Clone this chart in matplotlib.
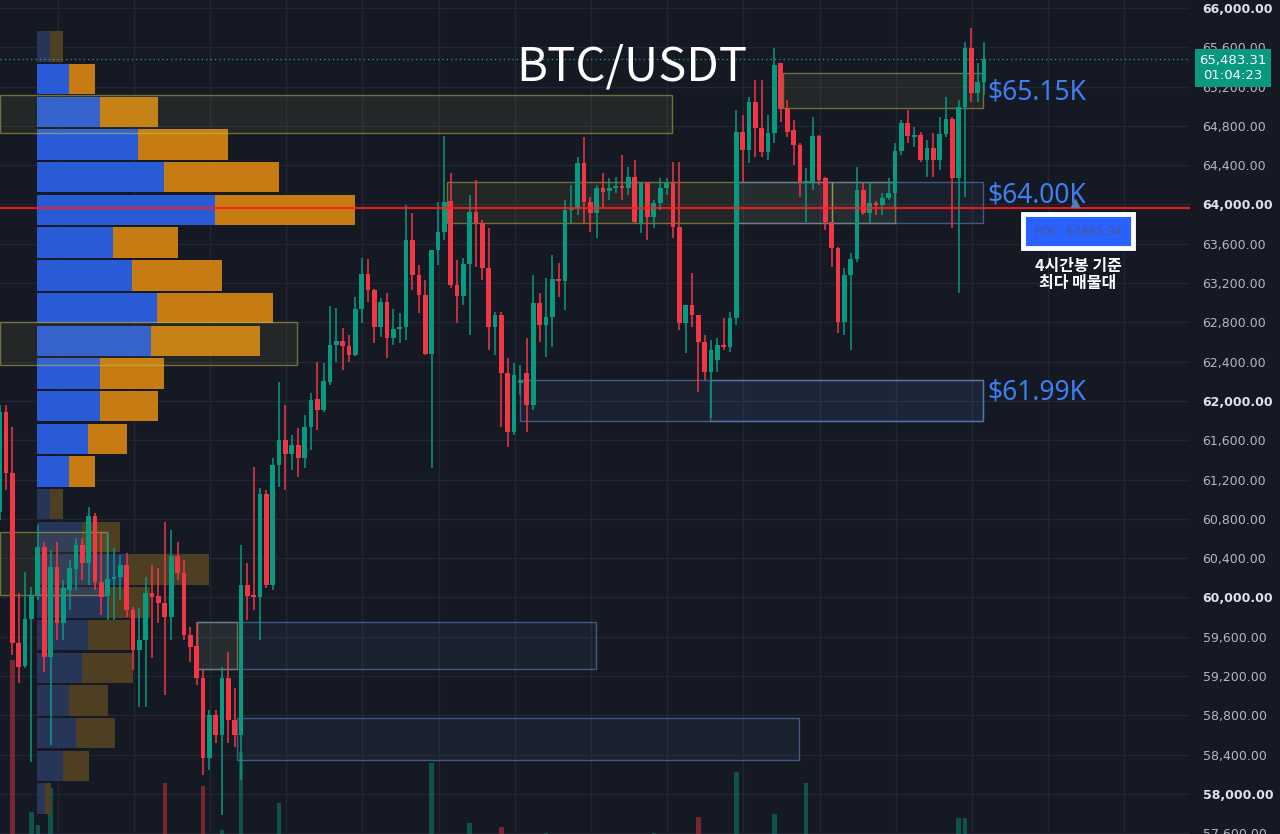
import numpy as np
import matplotlib.pyplot as plt
from matplotlib.patches import Rectangle

# 4h candles, oldest first (first one is cut by the left edge)
opens = [60870, 61888, 61267, 59537, 59302, 59781, 60025, 60514, 59394, 60310, 59740,
         60076, 60290, 60534, 60351, 60829, 60157, 60015, 60188, 60209, 60331, 59873,
         59465, 59567, 60046, 60015, 59944, 59801, 60422, 60249, 59618, 59506, 59180,
         58366, 58804, 58600, 59180, 58753, 58600, 60127, 60025, 60005, 61053, 60127,
         61348, 61602, 61460, 61552, 61419, 61735, 62020, 61908, 62193, 62569, 62610,
         62559, 62468, 62936, 63292, 63129, 62753, 63007, 62641, 62733, 62753, 63638,
         63282, 63079, 62478, 63536, 63720, 64035, 63181, 63068, 63394, 63923, 63812,
         63353, 62753, 62875, 62285, 61684, 62183, 62285, 61959, 62997, 62773, 62855,
         63242, 63221, 63944, 63954, 64422, 64025, 63913, 64168, 64137, 64168, 64188,
         64168, 64280, 63812, 64219, 63873, 64015, 64168, 64219, 63771, 62794, 62977,
         62875, 62600, 62295, 62417, 62569, 62549, 62845, 64738, 64554, 65043, 64778,
         64534, 64728, 65440, 64972, 64758, 64605, 64219, 64229, 64697, 64270, 63822,
         63557, 62804, 63282, 63445, 64147, 63913, 64015, 63995, 64066, 64117, 64544,
         64829, 64687, 64707, 64453, 64575, 64453, 64717, 64870, 64270, 64992, 65593,
         65135, 65246]
highs = [61959, 61959, 61735, 60046, 60259, 60107, 60738, 60565, 60482, 60565, 60178,
         60381, 60605, 60605, 60921, 60860, 60656, 60656, 60504, 60432, 60453, 59903,
         59893, 60209, 60331, 60300, 60768, 60686, 60565, 60381, 59700, 59750, 59262,
         58855, 58855, 59292, 59445, 59079, 60534, 60351, 61328, 61114, 61093, 61419,
         62193, 61959, 61654, 61725, 61857, 62081, 62397, 62387, 62967, 62946, 62743,
         62672, 63058, 63455, 63445, 63140, 63048, 63099, 62936, 62895, 63995, 63913,
         63384, 63231, 63536, 64025, 64697, 64320, 63435, 63455, 64097, 64249, 63842,
         63761, 62906, 62906, 62437, 62387, 62366, 62641, 63282, 63099, 63252, 63486,
         63404, 64045, 64198, 64483, 64687, 64076, 64198, 64320, 64270, 64280, 64504,
         64382, 64453, 64219, 64229, 64045, 64270, 64270, 64432, 64432, 62977, 63302,
         62875, 62672, 62620, 62641, 62845, 62906, 64962, 64911, 65094, 65267, 65267,
         64911, 65593, 65440, 65063, 64860, 64626, 64371, 64890, 64707, 64280, 63822,
         63567, 63353, 63506, 64382, 64219, 64219, 64035, 64117, 64270, 64626, 64860,
         64962, 64789, 64738, 64656, 64728, 64890, 65094, 64890, 65063, 65654, 65796,
         65440, 65654]
lows = [60788, 61093, 59414, 59130, 59282, 58326, 59974, 59241, 58499, 59567, 59567,
        59873, 60076, 60178, 60127, 60076, 59822, 59771, 59771, 59974, 59801, 59262,
        58885, 58885, 59384, 59740, 59007, 59567, 60178, 59567, 59343, 59109, 58193,
        58244, 58519, 57786, 58519, 58478, 58142, 59771, 59873, 59567, 60096, 60076,
        61125, 61093, 61297, 61226, 61318, 61500, 61704, 61888, 62163, 62397, 62315,
        62397, 62458, 62794, 63007, 62590, 62651, 62437, 62569, 62590, 62620, 63129,
        62895, 62468, 61318, 63384, 63638, 63150, 62794, 62977, 62672, 63364, 63231,
        62518, 62468, 61735, 61531, 61654, 62061, 61684, 61908, 62600, 62448, 62549,
        63058, 62926, 63812, 63893, 63812, 63720, 63659, 63974, 64045, 64117, 64045,
        64097, 63812, 63710, 63638, 63761, 63944, 64097, 63659, 62722, 62488, 62753,
        62092, 62213, 61827, 62295, 62518, 62498, 62773, 64229, 64422, 64483, 64483,
        64453, 64626, 64839, 64687, 64402, 64076, 63822, 64147, 64198, 63740, 63364,
        62692, 62672, 62518, 63414, 63893, 63812, 63893, 63893, 64045, 63964, 64504,
        64626, 64585, 64432, 64280, 64280, 64351, 64687, 63761, 63099, 64076, 65043,
        65043, 65114]
closes = [61888, 61267, 59537, 59292, 59781, 60025, 60514, 59394, 60310, 59740, 60096,
          60300, 60534, 60351, 60829, 60157, 60005, 60188, 60209, 60331, 59873, 59465,
          59567, 60046, 60005, 59944, 59801, 60422, 60249, 59618, 59496, 59180, 58366,
          58804, 58600, 59180, 58753, 58600, 60127, 60015, 60005, 61053, 60127, 61348,
          61602, 61460, 61552, 61419, 61735, 62009, 61908, 62203, 62569, 62610, 62559,
          62468, 62936, 63292, 63129, 62753, 63007, 62641, 62733, 62753, 63638, 63282,
          63079, 62478, 63536, 63720, 64025, 63181, 63068, 63394, 63923, 63812, 63353,
          62753, 62875, 62285, 61684, 62264, 62213, 61959, 62997, 62773, 62855, 63242,
          63221, 63944, 63964, 64422, 64025, 63913, 64168, 64127, 64168, 64188, 64168,
          64280, 63822, 64219, 63873, 64015, 64168, 64219, 63771, 62794, 62977, 62875,
          62600, 62295, 62518, 62569, 62549, 62845, 64738, 64554, 65043, 64778, 64534,
          64728, 65420, 64972, 64738, 64605, 64229, 64239, 64697, 64249, 63822, 63557,
          62804, 63282, 63445, 64147, 63913, 64015, 63995, 64066, 64117, 64544, 64829,
          64697, 64707, 64453, 64575, 64453, 64717, 64870, 64270, 64992, 65593, 65135,
          65246, 65483.31]

# only the bars tall enough to show above the bottom edge
vol_idx = [1, 4, 5, 7, 25, 31, 34, 37, 43, 67, 73, 78, 85, 102, 109, 115, 121, 126, 150, 151]
vol_val = [3070, 1700, 1580, 1910, 1960, 1930, 1540, 2240, 1780, 2140, 1600, 1560, 1510,
           1510, 1650, 2060, 1680, 1960, 1640, 1640]

# visible-range volume profile, top row first (up / down volume)
vp_up = [13, 32, 63, 101, 127, 178, 76, 95, 120, 114, 63, 63, 51, 32, 13, 45, 90, 71, 51, 45, 32, 39, 26, 8]
vp_down = [13, 26, 58, 90, 115, 140, 65, 90, 116, 109, 64, 58, 39, 26, 13, 38, 82, 42, 42, 51, 39, 39, 26, 6]
vp_in_va = [False] + [True] * 13 + [False] * 10
vp_top, vp_bottom = 65776, 57786

# zones: (start bar, end bar, low, high, kind)
zones = [(-1, 104.9, 64728, 65114, 'y'), (-1, 45.8, 62366, 62804, 'y'),
         (69.4, 130.0, 63812, 64229, 'y'), (130.0, 140.0, 63812, 64229, 'y'),
         (115.3, 153.9, 63812, 64229, 'b'), (122.3, 153.9, 64982, 65338, 'y'),
         (80.9, 153.9, 61796, 62213, 'b'), (110.9, 153.9, 61796, 62213, 'b'),
         (30.0, 36.4, 59272, 59750, 'y'), (30.0, 92.9, 59272, 59750, 'b'),
         (36.4, 124.9, 58345, 58773, 'b'), (-1, 15.9, 60025, 60670, 'y')]

levels = ['$65.15K', '$64.00K', '$61.99K']
level_y = [65135, 64087, 62082]
poc = 63965.94
last_price = 65483.31

BG = '#151924'
GRID = '#222633'
UP = '#089981'
DOWN = '#f23645'

fig = plt.figure(figsize=(12.8, 8.34), dpi=100, facecolor=BG)
rect = [0, 0, 1190 / 1280, 1]
ylim = (57593, 66081)
xlim = (-0.96, 186.44)
n = len(opens)
x = np.arange(n) - 1
ticks = np.arange(57600, 66001, 400)

gax = fig.add_axes(rect, zorder=0)   # grid
vax = fig.add_axes(rect, zorder=1)   # volume
pax = fig.add_axes(rect, zorder=2)   # volume profile
ax = fig.add_axes(rect, zorder=3)    # price
for a in (gax, vax, pax, ax):
    a.patch.set_visible(False)
    for s in a.spines.values():
        s.set_visible(False)

gax.set_xlim(xlim)
gax.set_ylim(ylim)
for t in ticks:
    gax.axhline(t, color=GRID, lw=1)
for gx in np.arange(8.1, 186, 12):
    gax.axvline(gx, color=GRID, lw=1)
gax.set_xticks([])
gax.set_yticks([])

# volume
vols = np.zeros(n)
vols[np.array(vol_idx) + 1] = vol_val
colors = [UP if cl >= op else DOWN for op, cl in zip(opens, closes)]
vax.bar(x, vols, width=0.72, color=colors, alpha=0.45)
vax.set_xlim(xlim)
vax.set_ylim(1500, 1500 + 834 * 9)
vax.set_xticks([])
vax.set_yticks([])

# volume profile
pitch = (vp_top - vp_bottom) / len(vp_up)
row_c = vp_top - pitch * (np.arange(len(vp_up)) + 0.5)
up_c = ['#2a5bd7' if v else '#263558' for v in vp_in_va]
dn_c = ['#c67c12' if v else '#4e3f22' for v in vp_in_va]
pax.barh(row_c, vp_up, height=pitch * 0.93, color=up_c)
pax.barh(row_c, vp_down, left=vp_up, height=pitch * 0.93, color=dn_c)
pax.set_xlim(-37, 1153)
pax.set_ylim(ylim)
pax.set_xticks([])
pax.set_yticks([])

ax.set_xlim(xlim)
ax.set_ylim(ylim)
ax.set_xticks([])
ax.set_yticks(ticks)
ax.yaxis.tick_right()
ax.tick_params(axis='y', length=0, pad=9, labelsize=9)
ax.set_yticklabels([f'{t:,.2f}' for t in ticks])
for t, lab in zip(ticks, ax.get_yticklabels()):
    if t % 2000 == 0:
        lab.set_fontweight('bold')
        lab.set_color('#dfe2ea')
    else:
        lab.set_color('#b4b7c0')

# zones
for x0, x1, lo, hi, kind in zones:
    if kind == 'y':
        fc, ec = (0.8, 0.8, 0.3, 0.08), (0.8, 0.75, 0.3, 0.5)
    else:
        fc, ec = (0.35, 0.5, 0.75, 0.07), (0.4, 0.55, 0.8, 0.55)
    ax.add_patch(Rectangle((x0, lo), x1 - x0, hi - lo, facecolor=fc, edgecolor=ec, lw=1, zorder=2))

# candles
o = np.array(opens)
c = np.array(closes)
ax.vlines(x, lows, highs, colors=colors, lw=1.1, zorder=4)
body = np.maximum(np.abs(c - o), 12)
ax.bar(x, body, bottom=np.minimum(o, c), width=0.74, color=colors, zorder=5)

# POC and last price lines
ax.axhline(poc, color='#ff1f1f', lw=1.6, alpha=0.85, zorder=6)
ax.axhline(last_price, color='#26a69a', lw=0.9, ls=(0, (1, 2.5)), zorder=6)

for lab, yv in zip(levels, level_y):
    ax.text(154.6, yv, lab, color='#3f7ff0', fontsize=19, va='center', ha='left',
            family=['Noto Sans', 'DejaVu Sans'], zorder=8)

ax.plot([168.3], [64020], marker='^', ms=6, color='#5b78b5', zorder=8, clip_on=False)
ax.text(168.8, 63730, 'POC  63965.94', color='#44589a', fontsize=8.5, ha='center', va='center',
        zorder=9, bbox=dict(boxstyle='square,pad=0.9', fc='#2962ff', ec='white', lw=3.5))
ax.text(168.8, 63290, '4시간봉 기준\n최다 매물대', color='white', fontsize=11.5, ha='center',
        va='center', linespacing=1.1, fontweight='bold',
        family=['Noto Sans CJK KR', 'DejaVu Sans'], zorder=9)

fig.text(632 / 1280, 1 - 67 / 834, 'BTC/USDT', color='white', fontsize=34, ha='center',
         va='center', family=['Noto Sans CJK KR', 'DejaVu Sans'])

# last price tag on the axis
fig.text(1233 / 1280, 1 - 68 / 834, '65,483.31\n01:04:23', color='white', fontsize=9.5,
         ha='center', va='center', linespacing=1.25, zorder=10,
         bbox=dict(boxstyle='square,pad=0.35', fc='#089981', ec='none'))

fig.savefig('out.png', dpi=100, facecolor=BG)
